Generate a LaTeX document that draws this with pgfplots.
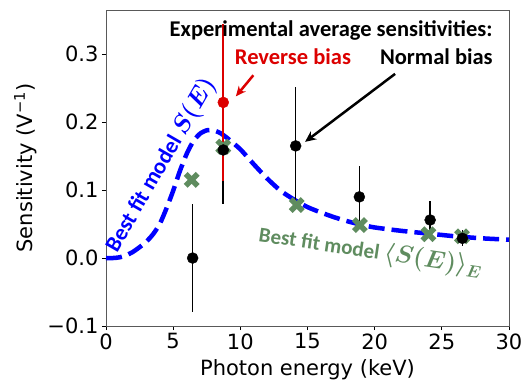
\documentclass[border=0pt]{standalone}
\usepackage{fontspec}
\setmainfont{DejaVu Sans}
\newfontfamily\carl{Carlito}
\usepackage{pgfplots}
\pgfplotsset{compat=1.18}
\usetikzlibrary{arrows.meta}
\definecolor{mgreen}{RGB}{95,140,95}
\definecolor{mblue}{RGB}{0,0,255}
\definecolor{mred}{RGB}{220,0,0}
\newcommand{\bigmath}[1]{{\fontsize{25bp}{28bp}\selectfont$#1$}}
\newcommand{\midmath}[1]{{\fontsize{23bp}{26bp}\selectfont$#1$}}
\begin{document}
\begin{tikzpicture}
\path[use as bounding box] (-106bp,-57bp) rectangle (417bp,326bp);
\begin{axis}[
  width=403bp, height=316bp, scale only axis,
  xmin=0, xmax=30, ymin=-0.1, ymax=0.365,
  xtick={0,5,10,15,20,25,30},
  ytick={-0.1,0,0.1,0.2,0.3},
  yticklabels={\char"2212 0.1,0.0,0.1,0.2,0.3},
  xtick pos=left, ytick pos=left,
  tick align=outside, major tick length=4bp,
  tick style={black, line width=0.8bp},
  axis line style={draw=black!65, line width=0.9bp},
  ticklabel style={font=\fontsize{21bp}{25bp}\selectfont},
  /pgf/number format/assume math mode=true,
  xlabel={Photon energy (keV)},
  ylabel={Sensitivity (V\textsuperscript{\char"2212 1})},
  xlabel style={font=\fontsize{21bp}{25bp}\selectfont, at={(axis description cs:0.5,-0.139)}, anchor=center},
  ylabel style={font=\fontsize{21bp}{25bp}\selectfont, at={(axis description cs:-0.2,0.5)}, anchor=center, rotate=0},
  clip=true,
]
% best fit model S(E)
\addplot[mblue, line width=4.5bp, dash pattern=on 16bp off 7bp, smooth, tension=0.4] coordinates {
(0,0.000) (0.5,0.000) (1.0,0.001) (1.5,0.004) (2.0,0.009) (2.5,0.016) (3.0,0.024) (3.5,0.035) (4.0,0.050) (4.5,0.073) (5.0,0.099) (5.5,0.128) (6.0,0.153) (6.5,0.172) (7.0,0.183) (7.5,0.188) (8.0,0.188) (8.5,0.184) (9.0,0.177) (10,0.160) (11,0.138) (12,0.117) (13,0.099) (14,0.086) (15,0.075) (16,0.067) (17,0.060) (18,0.054) (19,0.049) (20,0.045) (22,0.040) (24,0.036) (26,0.032) (28,0.029) (30,0.027)
};
% model average
\addplot[only marks, mgreen, mark=x, mark size=8.5bp, mark options={line width=5.5bp, line cap=butt}] coordinates {
(6.38,0.115) (8.73,0.164) (14.2,0.078) (18.9,0.0485) (24.0,0.035) (26.5,0.032)
};
% normal bias error bars
\addplot[draw=none, mark=none, black, error bars/.cd, y dir=both, y explicit, error mark=none, error bar style={line width=1.6bp, black}] coordinates {
(6.45,0.0) +- (0,0.08)
(8.73,0.159) +- (0,0.079)
(14.12,0.165) +- (0,0.086)
(18.86,0.090) +- (0,0.046)
(24.13,0.056) +- (0,0.028)
(26.53,0.029) +- (0,0.012)
};
% reverse bias
\addplot[only marks, mark=*, mark size=5.5bp, mred, mark options={fill=mred, draw=mred}, error bars/.cd, y dir=both, y explicit, error mark=none, error bar style={line width=1.6bp, mred}] coordinates {
(8.73,0.229) +- (0,0.115)
};
% normal bias points
\addplot[only marks, mark=*, mark size=5.5bp, black, mark options={fill=black}] coordinates {
(6.45,0.0) (8.73,0.159) (14.12,0.165) (18.86,0.090) (24.13,0.056) (26.53,0.029)
};
% annotations
\node[anchor=east, inner sep=0pt, font=\carl\bfseries\fontsize{22.5bp}{26bp}\selectfont] at (axis cs:28.8,0.335) {Experimental average sensitivities:};
\node[anchor=east, inner sep=0pt, font=\carl\bfseries\fontsize{22.5bp}{26bp}\selectfont] at (axis cs:28.8,0.297) {Normal bias};
\node[anchor=center, inner sep=0pt, text=mred, font=\carl\bfseries\fontsize{22.5bp}{26bp}\selectfont] at (axis cs:13.92,0.297) {Reverse bias};
\draw[mred, line width=2.5bp, -{Stealth[length=10bp,width=9bp]}] (axis cs:10.97,0.269) -- (axis cs:9.67,0.238);
\draw[black, line width=2.5bp, -{Stealth[length=11bp,width=10bp]}] (axis cs:21.52,0.271) -- (axis cs:14.82,0.171);
\node[rotate=60, inner sep=0pt, text=mblue, font=\carl\bfseries\boldmath\fontsize{22.5bp}{26bp}\selectfont] at (axis cs:4.1,0.137) {Best fit model \bigmath{S(E)}};
\node[rotate=-8.5, inner sep=0pt, text=mgreen, font=\carl\bfseries\boldmath\fontsize{21bp}{25bp}\selectfont] at (axis cs:19.7,0.009) {Best fit model \midmath{\langle S(E)\rangle_E}};
\end{axis}
\end{tikzpicture}
\end{document}
